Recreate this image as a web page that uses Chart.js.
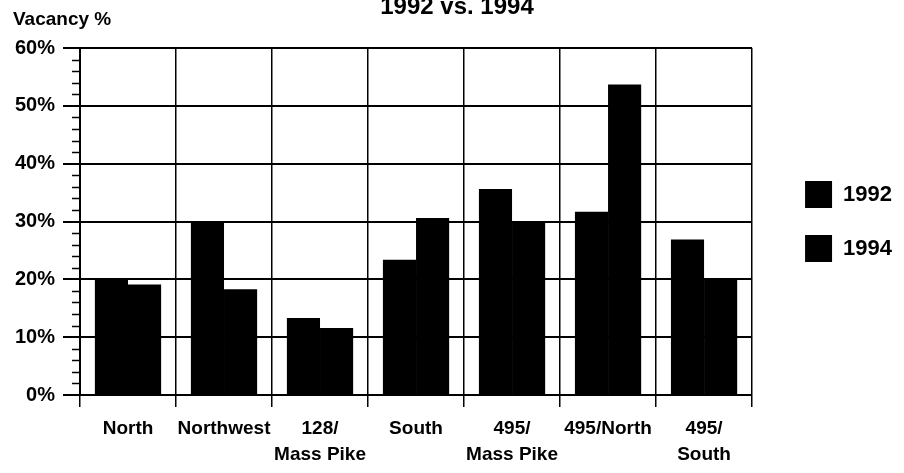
<!DOCTYPE html>
<html>
<head>
<meta charset="utf-8">
<title>Vacancy % 1992 vs. 1994</title>
<script src="https://cdn.jsdelivr.net/npm/chart.js@4"></script>
<style>
  body { margin: 0; background: #fff; }
  #wrap { width: 904px; height: 473px; }
</style>
</head>
<body>
<div id="wrap"><canvas id="vacancyChart" width="904" height="473"></canvas></div>
<script>
// Data
const regions = ["North", "Northwest", ["128/", "Mass Pike"], "South", ["495/", "Mass Pike"], "495/North", ["495/", "South"]];
const vacancy1992 = [20.0, 29.9, 13.3, 23.4, 35.6, 31.7, 26.9];
const vacancy1994 = [19.1, 18.3, 11.6, 30.6, 29.8, 53.7, 20.1];
const yTicks = [0, 10, 20, 30, 40, 50, 60];

const sans = "'Liberation Sans', Arial, sans-serif";

// title, axis caption and the small 2% ticks on the value axis
const decorations = {
    id: 'decorations',
    afterLayout(chart) {
        chart.legend.left += 26;
        chart.legend.right += 26;
    },
    afterDraw(chart) {
        const ctx = chart.ctx;
        const y = chart.scales.y;
        const left = chart.chartArea.left;
        ctx.save();
        ctx.strokeStyle = '#000';
        ctx.lineWidth = 1.5;
        for (let v = yTicks[0]; v < yTicks[yTicks.length - 1]; v += 2) {
            if (v % 10 === 0) continue;
            const py = Math.round(y.getPixelForValue(v)) + 0.5;
            ctx.beginPath();
            ctx.moveTo(left - 8, py);
            ctx.lineTo(left, py);
            ctx.stroke();
        }
        ctx.fillStyle = '#000';
        ctx.textBaseline = 'alphabetic';
        ctx.font = "bold 24px " + sans;
        ctx.textAlign = 'center';
        ctx.fillText('1992 vs. 1994', 457, 14);
        ctx.font = "bold 19px " + sans;
        ctx.textAlign = 'left';
        ctx.fillText('Vacancy %', 13, 25);
        ctx.restore();
    }
};

const ctx = document.getElementById('vacancyChart').getContext('2d');

new Chart(ctx, {
    type: 'bar',
    data: {
        labels: regions,
        datasets: [{
            label: '1992',
            data: vacancy1992,
            backgroundColor: '#000',
            borderWidth: 0
        }, {
            label: '1994',
            data: vacancy1994,
            backgroundColor: '#000',
            borderWidth: 0
        }]
    },
    options: {
        responsive: false,
        animation: false,
        devicePixelRatio: 1,
        categoryPercentage: 0.69,
        barPercentage: 1.0,
        layout: {
            padding: { top: 48, right: 28, bottom: 0, left: 0 }
        },
        plugins: {
            title: { display: false },
            tooltip: { enabled: false },
            legend: {
                position: 'right',
                fullSize: false,
                align: 'center',
                labels: {
                    boxWidth: 27,
                    boxHeight: 27,
                    padding: 27,
                    color: '#000',
                    font: { family: sans, size: 22, weight: 'bold' }
                }
            }
        },
        scales: {
            x: {
                afterFit(scale) { scale.height = 78; },
                grid: {
                    offset: true,
                    color: '#000',
                    lineWidth: 1.5,
                    tickLength: 12
                },
                border: { color: '#000', width: 2 },
                ticks: {
                    color: '#000',
                    padding: 9,
                    maxRotation: 0,
                    autoSkip: false,
                    font: { family: sans, size: 19, weight: 'bold', lineHeight: 1.35 }
                }
            },
            y: {
                min: yTicks[0],
                max: yTicks[yTicks.length - 1],
                afterFit(scale) { scale.width = 80; },
                afterBuildTicks(scale) { scale.ticks = yTicks.map(v => ({ value: v })); },
                grid: {
                    color: '#000',
                    lineWidth: 2,
                    tickLength: 17
                },
                border: { color: '#000', width: 2 },
                ticks: {
                    color: '#000',
                    padding: 8,
                    font: { family: sans, size: 20, weight: 'bold' },
                    callback: v => v + '%'
                }
            }
        }
    },
    plugins: [decorations]
});
</script>
</body>
</html>
